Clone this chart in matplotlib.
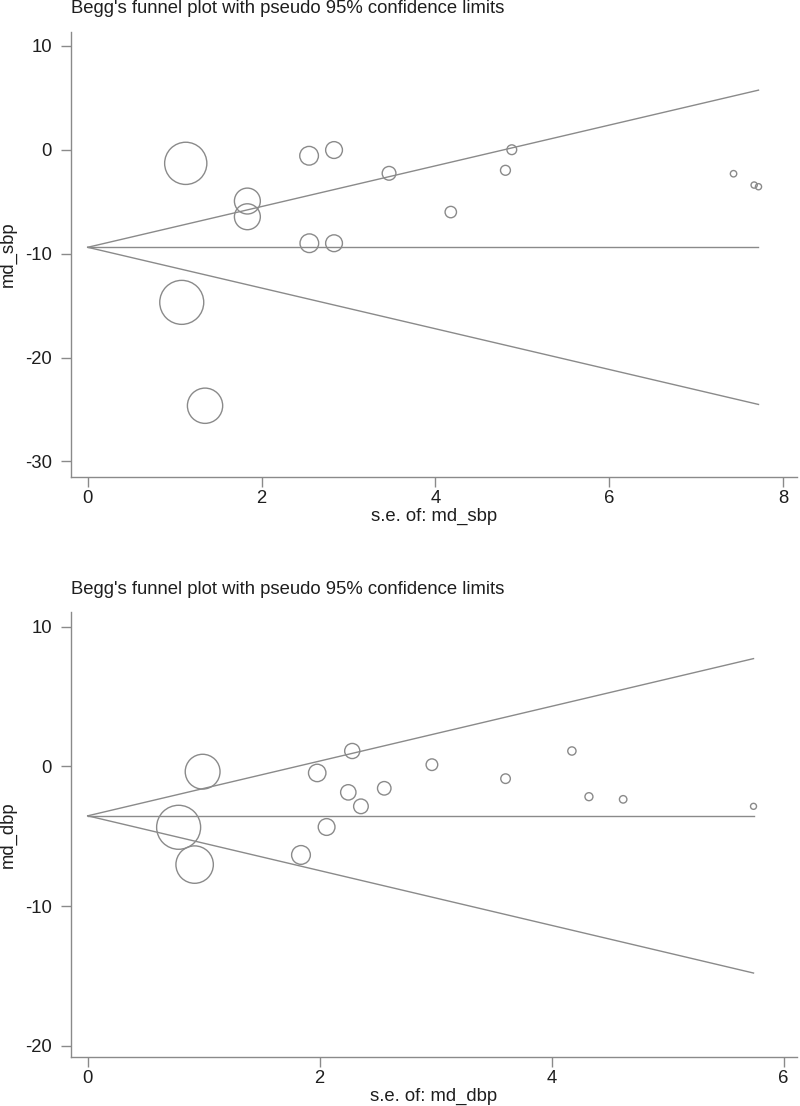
import matplotlib
matplotlib.use("Agg")
import matplotlib.pyplot as plt
import numpy as np

plt.rcParams['font.family'] = ['Liberation Sans', 'DejaVu Sans']
plt.rcParams['axes.unicode_minus'] = False

# ---- Data: systolic BP (top panel) ----
se_sbp = [1.128, 1.837, 1.837, 2.547, 2.834, 3.467, 2.550, 2.834, 1.082, 1.350,
          4.879, 4.806, 4.177, 7.430, 7.667, 7.717]
md_sbp = [-1.31, -4.94, -6.45, -0.58, -0.03, -2.27, -9.00, -9.00, -14.69, -24.64,
          0.00, -1.98, -6.00, -2.31, -3.40, -3.56]
theta_sbp = -9.39

# ---- Data: diastolic BP (bottom panel) ----
se_dbp = [0.991, 0.784, 0.922, 2.281, 1.979, 2.247, 2.356, 2.557, 2.060, 1.839,
          2.968, 3.603, 4.175, 4.322, 4.617, 5.741]
md_dbp = [-0.38, -4.36, -7.03, 1.10, -0.47, -1.86, -2.86, -1.57, -4.34, -6.34,
          0.12, -0.88, 1.10, -2.17, -2.36, -2.86]
theta_dbp = -3.54

title_text = "Begg's funnel plot with pseudo 95% confidence limits"

panels = [
    dict(se=se_sbp, md=md_sbp, theta=theta_sbp, ylabel="md_sbp", xlabel="s.e. of: md_sbp",
         xticks=[0, 2, 4, 6, 8], yticks=[-30, -20, -10, 0, 10],
         xlim=(-0.192, 8.16), ylim=(-31.47, 11.36), title_pad=13.2,
         rect=[71/800, 1-476.7/1106, 726/800, 445/1106]),
    dict(se=se_dbp, md=md_dbp, theta=theta_dbp, ylabel="md_dbp", xlabel="s.e. of: md_dbp",
         xticks=[0, 2, 4, 6], yticks=[-20, -10, 0, 10],
         xlim=(-0.144, 6.116), ylim=(-20.78, 11.07), title_pad=12.6,
         rect=[71/800, 1-1056.7/1106, 726/800, 445/1106]),
]

line_col = '#8a8a8a'
text_col = '#1e1e1e'
fs = 13.3

fig = plt.figure(figsize=(8.0, 11.06), dpi=100)

for p in panels:
    ax = fig.add_axes(p['rect'])
    se = np.array(p['se'])
    md = np.array(p['md'])
    th = p['theta']
    smax = se.max()
    # funnel lines
    ax.plot([0, smax], [th, th + 1.96 * smax], color=line_col, lw=1.0, zorder=1)
    ax.plot([0, smax], [th, th - 1.96 * smax], color=line_col, lw=1.0, zorder=1)
    ax.plot([0, smax], [th, th], color=line_col, lw=1.0, zorder=1)
    # markers: diameter proportional to 1/se (area ~ weight)
    dmax_px = 44.0
    d_pt = dmax_px * 0.72 * se.min() / se
    ax.scatter(se, md, s=d_pt ** 2, facecolors='none', edgecolors=line_col,
               linewidths=1.0, zorder=2)
    ax.set_xlim(*p['xlim'])
    ax.set_ylim(*p['ylim'])
    ax.set_xticks(p['xticks'])
    ax.set_yticks(p['yticks'])
    for s in ['top', 'right']:
        ax.spines[s].set_visible(False)
    for s in ['left', 'bottom']:
        ax.spines[s].set_color(line_col)
        ax.spines[s].set_linewidth(1.0)
    ax.tick_params(axis='both', colors=line_col, labelcolor=text_col, length=7.2,
                   width=1.0, labelsize=fs, direction='out')
    ax.tick_params(axis='y', pad=6.5)
    ax.tick_params(axis='x', pad=2.2)
    ax.set_xlabel(p['xlabel'], fontsize=fs, color=text_col, labelpad=1)
    ax.set_ylabel(p['ylabel'], fontsize=fs, color=text_col, labelpad=6)
    ax.set_title(title_text, loc='left', fontsize=fs, color=text_col, pad=p['title_pad'])

fig.savefig("out.png", dpi=100)
